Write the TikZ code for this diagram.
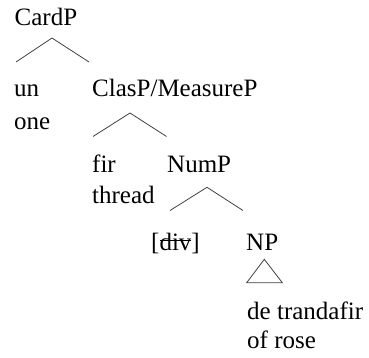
\documentclass[tikz,border=0pt]{standalone}
\usepackage{fontspec}
\setmainfont{Liberation Serif}
\newcommand\mystrike[1]{\setbox0\hbox{#1}\rlap{\rule[9pt]{\wd0}{0.8pt}}#1}
\begin{document}
\begin{tikzpicture}[x=1pt,y=-1pt,
  word/.style={anchor=base west,inner sep=0pt,font=\fontsize{25}{30}\selectfont},
  branch/.style={draw=black!75,line width=0.8pt}]
\useasboundingbox (0,0) rectangle (369,358);
% words
\node[word] (cardp) at (14.5,26) {CardP};
\node[word] (un) at (14,97) {un};
\node[word] (one) at (14,130) {one};
\node[word] (clas) at (92,97) {ClasP/MeasureP};
\node[word] (fir) at (92,172) {fir};
\node[word] (thread) at (92,204) {thread};
\node[word] (nump) at (167,172) {NumP};
\node[word] (div) at (151,250) {[\mystrike{div}]};
\node[word] (np) at (246,250) {NP};
\node[word] (detr) at (247,319) {de trandafir};
\node[word] (ofrose) at (247,348) {of rose};
% branch points
\coordinate (cA) at (52,38);
\coordinate (cL) at (16,62);
\coordinate (cR) at (89,62);
\coordinate (kA) at (130,113);
\coordinate (kL) at (93,136.5);
\coordinate (kR) at (166.5,136.5);
\coordinate (nA) at (207,187.3);
\coordinate (nL) at (170,210.5);
\coordinate (nR) at (243,210.5);
\coordinate (tA) at (264.3,259.3);
\coordinate (tL) at (246.7,282.7);
\coordinate (tR) at (282.3,282.7);
% branches
\draw[branch] (cL) -- (cA) -- (cR);
\draw[branch] (kL) -- (kA) -- (kR);
\draw[branch] (nL) -- (nA) -- (nR);
\draw[branch,line join=miter] (tA) -- (tL) -- (tR) -- cycle;
\end{tikzpicture}
\end{document}
